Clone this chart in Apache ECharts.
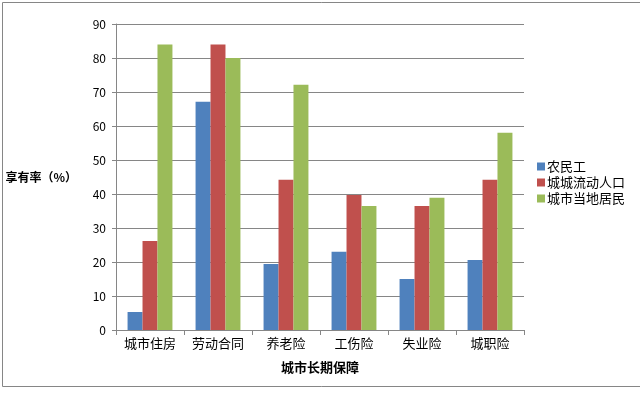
<!DOCTYPE html>
<html>
<head>
<meta charset="utf-8">
<script src="https://cdn.jsdelivr.net/npm/echarts@6/dist/echarts.min.js"></script>
<style>
html,body{margin:0;padding:0;background:#fff;}
#c{width:640px;height:396px;}
</style>
</head>
<body>
<div id="c"></div>
<script>
var categories = ['城市住房', '劳动合同', '养老险', '工伤险', '失业险', '城职险'];
var seriesNames = ['农民工', '城城流动人口', '城市当地居民'];
var farmers = [5.3, 67.1, 19.4, 23.0, 15.0, 20.6];
var urbanMigrants = [26.2, 84.0, 44.2, 39.7, 36.5, 44.2];
var localResidents = [84.0, 80.0, 72.1, 36.5, 38.9, 58.0];
var yTicks = [0, 90, 10];
var colors = ['#4F81BD', '#C0504D', '#9BBB59'];
var font = '"Noto Sans CJK SC", sans-serif';

var chart = echarts.init(document.getElementById('c'), null, {renderer: 'canvas'});
var seriesData = [farmers, urbanMigrants, localResidents];
chart.setOption({
  animation: false,
  backgroundColor: '#fff',
  color: colors,
  textStyle: {fontFamily: font},
  graphic: [{
    type: 'rect', silent: true,
    shape: {x: 2.5, y: 2.5, width: 660, height: 384},
    style: {fill: 'none', stroke: '#868686', lineWidth: 1}
  }],
  grid: {left: 116, top: 24, right: 116, bottom: 66, containLabel: false},
  legend: {
    orient: 'vertical', left: 532, top: 154,
    itemWidth: 8, itemHeight: 8, itemGap: 1,
    icon: 'rect',
    textStyle: {fontSize: 13, lineHeight: 15, color: '#000', fontFamily: font, padding: [0, 0, 0, -3]},
    data: seriesNames
  },
  xAxis: {
    type: 'category', data: categories,
    name: '城市长期保障', nameLocation: 'middle', nameGap: 31,
    nameTextStyle: {fontSize: 13, fontWeight: 'bold', color: '#000'},
    axisLine: {lineStyle: {color: '#868686'}},
    axisTick: {show: true, length: 5, lineStyle: {color: '#868686'}},
    axisLabel: {fontSize: 13, color: '#000', margin: 7, interval: 0}
  },
  yAxis: {
    type: 'value', min: yTicks[0], max: yTicks[1], interval: yTicks[2],
    name: '享有率（%）', nameLocation: 'middle', nameRotate: 0, nameGap: 39,
    nameTextStyle: {fontSize: 12, fontWeight: 'bold', color: '#000', align: 'right', padding: [0, 0, 6, 0]},
    axisLine: {show: true, lineStyle: {color: '#868686'}},
    axisTick: {show: true, length: 4, lineStyle: {color: '#868686'}},
    axisLabel: {fontSize: 12, color: '#000', margin: 10},
    splitLine: {lineStyle: {color: '#868686'}}
  },
  series: seriesNames.map(function (n, i) {
    return {
      name: n, type: 'bar', data: seriesData[i],
      barGap: '0%', barCategoryGap: '34%'
    };
  })
});
</script>
</body>
</html>
